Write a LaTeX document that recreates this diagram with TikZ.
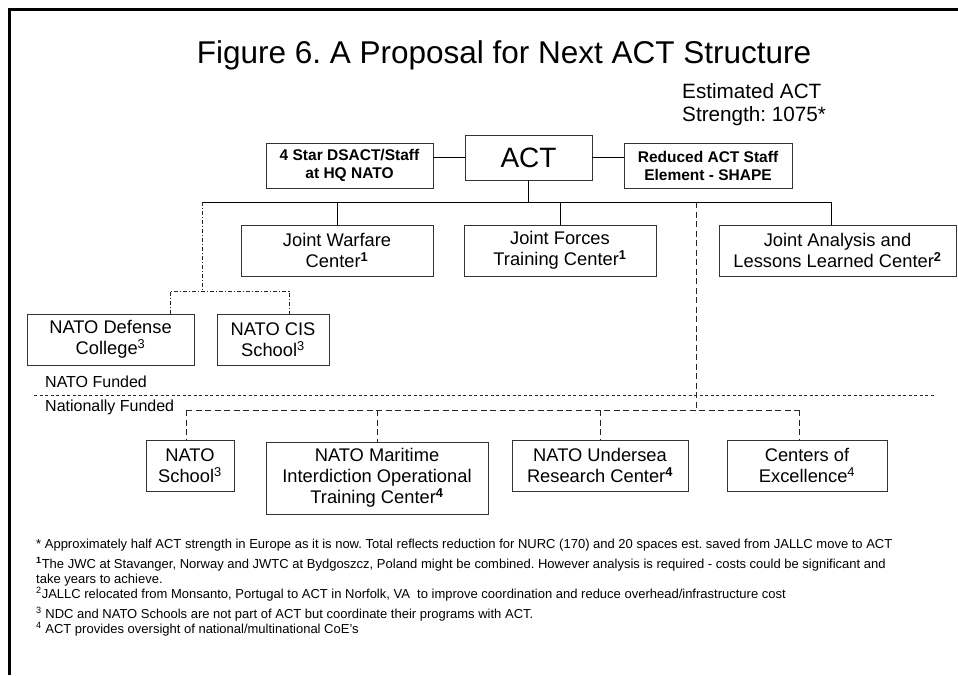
\documentclass[tikz,border=0pt]{standalone}
\usepackage{fontspec}
\setmainfont{Liberation Sans}
\frenchspacing
\newcommand{\supb}[1]{\textsuperscript{\bfseries #1}}
\newcommand{\supn}[1]{\textsuperscript{#1}}
\begin{document}
\begin{tikzpicture}[x=1pt,y=-1pt,
  box/.style={draw=black!80,line width=0.8pt,inner sep=0pt,align=center,
    font=\fontsize{18.3}{21}\selectfont},
  sbox/.style={draw=black!80,line width=0.8pt,inner sep=0pt,align=center,
    font=\fontsize{15.5}{18}\selectfont\bfseries},
  solidln/.style={draw=black,line width=0.8pt},
  dashln/.style={draw=black!85,line width=0.8pt,dash pattern=on 6pt off 3.5pt},
  dashdotln/.style={draw=black!85,line width=0.8pt,dash pattern=on 4pt off 2pt on 1pt off 2pt},
  dotln/.style={draw=black!85,line width=0.8pt,dash pattern=on 3pt off 2.5pt},
  lbl/.style={inner sep=0pt,anchor=base west},
  fn/.style={inner sep=0pt,anchor=base west,font=\fontsize{13}{15}\selectfont}]
\useasboundingbox (0,0) rectangle (958,675);
\fill[white] (0,0) rectangle (958,675);
% frame
\draw[line width=3pt] (9.5,675) -- (9.5,9) -- (958,9);
% title
\node[inner sep=0pt,anchor=base,font=\fontsize{31.5}{36}\selectfont] (title) at (504,63) {Figure 6. A Proposal for Next ACT Structure};
\node[lbl,font=\fontsize{20.7}{23}\selectfont] (est1) at (682,98) {Estimated ACT};
\node[lbl,font=\fontsize{20.7}{23}\selectfont] (est2) at (682,121) {Strength: 1075*};
% top row
\node[box,minimum width=127pt,minimum height=45pt,font=\fontsize{28}{32}\selectfont] (act) at (528.5,157.5) {ACT};
\node[sbox,minimum width=167pt,minimum height=45pt] (star) at (349.5,165.5) {4 Star DSACT/Staff\\at HQ NATO};
\node[sbox,minimum width=168pt,minimum height=45pt] (red) at (708,165.5) {Reduced ACT Staff\\Element - SHAPE};
\draw[solidln] (act.west) -- (act.west -| star.east);
\draw[solidln] (act.east) -- (act.east -| red.west);
% second row
\node[box,minimum width=192pt,minimum height=51pt] (jwc) at (337,250.5) {Joint Warfare\\Center\supb{1}};
\node[box,minimum width=192pt,minimum height=51pt] (jftc) at (560,250.5) {Joint Forces\\Training Center\supb{1}};
\node[box,minimum width=237pt,minimum height=51pt] (jallc) at (837.5,250.5) {Joint Analysis and\\Lessons Learned Center\supb{2}};
% bus
\coordinate (busL) at (202,202);
\coordinate (busR) at (831,202);
\coordinate (busM) at (528.5,202);
\coordinate (busD) at (696,202);
\draw[solidln] (act.south) -- (busM);
\draw[solidln] (busL) -- (busR);
\draw[solidln] (jwc.north) -- (jwc.north |- busL);
\draw[solidln] (jftc.north) -- (jftc.north |- busL);
\draw[solidln] (busR) -- (busR |- jallc.north);
% NATO-funded schools
\node[box,minimum width=167pt,minimum height=51pt] (ndc) at (110.5,339.5) {NATO Defense\\College\supn{3}};
\node[box,minimum width=112pt,minimum height=51pt] (cis) at (273,339.5) {NATO CIS\\School\supn{3}};
\coordinate (ddj) at (202,291);
\coordinate (ddl) at (170,291);
\coordinate (ddr) at (289,291);
\draw[dashdotln] (busL) -- (ddj);
\draw[dashdotln] (ddl |- ndc.north) -- (ddl) -- (ddr) -- (ddr |- cis.north);
% separator
\coordinate (sepL) at (34,395);
\coordinate (sepR) at (935,395);
\draw[dotln] (sepL) -- (sepR);
\node[lbl,font=\fontsize{16}{18}\selectfont] (nf) at (45,387) {NATO Funded};
\node[lbl,font=\fontsize{16}{18}\selectfont] (nlf) at (45,411) {Nationally Funded};
% nationally funded
\node[box,minimum width=88pt,minimum height=51pt] (school) at (190,465.5) {NATO\\School\supn{3}};
\node[box,minimum width=222pt,minimum height=72pt] (miotc) at (377,478) {NATO Maritime\\Interdiction Operational\\Training Center\supb{4}};
\node[box,minimum width=176pt,minimum height=51pt] (nurc) at (600,465.5) {NATO Undersea\\Research Center\supb{4}};
\node[box,minimum width=160pt,minimum height=51pt] (coe) at (807,465.5) {Centers of\\Excellence\supn{4}};
\coordinate (lbD) at (696,410);
\coordinate (lbL) at (186,410);
\coordinate (lbR) at (799,410);
\draw[dashln] (busD) -- (lbD);
\draw[dashln] (lbL) -- (lbR);
\draw[dashln] (lbL) -- (lbL |- school.north);
\draw[dashln] (miotc.north |- lbL) -- (miotc.north);
\draw[dashln] (nurc.north |- lbL) -- (nurc.north);
\draw[dashln] (lbR) -- (lbR |- coe.north);
% footnotes
\node[fn] (fn1) at (36,548) {* Approximately half ACT strength in Europe as it is now. Total reflects reduction for NURC (170) and 20 spaces est. saved from JALLC move to ACT};
\node[fn] (fn2) at (36,568) {\supb{1}The JWC at Stavanger, Norway and JWTC at Bydgoszcz, Poland might be combined. However analysis is required - costs could be significant and};
\node[fn] (fn3) at (36,583) {take years to achieve.};
\node[fn] (fn4) at (36,598) {\supn{2}JALLC relocated from Monsanto, Portugal to ACT in Norfolk, VA\ \ to improve coordination and reduce overhead/infrastructure cost};
\node[fn] (fn5) at (36,618) {\supn{3} NDC and NATO Schools are not part of ACT but coordinate their programs with ACT.};
\node[fn] (fn6) at (36,633) {\supn{4} ACT provides oversight of national/multinational CoE's};
\end{tikzpicture}
\end{document}
